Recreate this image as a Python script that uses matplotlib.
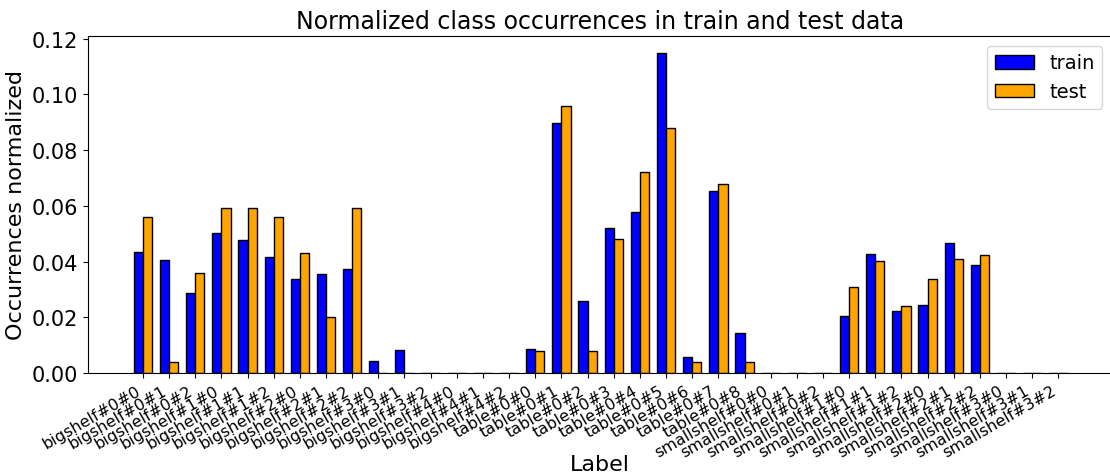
import numpy as np
import matplotlib.pyplot as plt

# Class labels (object#shelf#level)
labels = [
    "bigshelf#0#0", "bigshelf#0#1", "bigshelf#0#2",
    "bigshelf#1#0", "bigshelf#1#1", "bigshelf#1#2",
    "bigshelf#2#0", "bigshelf#2#1", "bigshelf#2#2",
    "bigshelf#3#0", "bigshelf#3#1", "bigshelf#3#2",
    "bigshelf#4#0", "bigshelf#4#1", "bigshelf#4#2",
    "table#0#0", "table#0#1", "table#0#2", "table#0#3", "table#0#4",
    "table#0#5", "table#0#6", "table#0#7", "table#0#8",
    "smallshelf#0#0", "smallshelf#0#1", "smallshelf#0#2",
    "smallshelf#1#0", "smallshelf#1#1", "smallshelf#1#2",
    "smallshelf#2#0", "smallshelf#2#1", "smallshelf#2#2",
    "smallshelf#3#0", "smallshelf#3#1", "smallshelf#3#2",
]

# normalized occurrences
train = [
    0.0433, 0.0406, 0.0288,
    0.0504, 0.0478, 0.0416,
    0.0337, 0.0355, 0.0375,
    0.0042, 0.0082, 0.0,
    0.0, 0.0, 0.0,
    0.0085, 0.0897, 0.0257, 0.0521, 0.0577,
    0.1149, 0.0059, 0.0652, 0.0145,
    0.0, 0.0, 0.0,
    0.0204, 0.0429, 0.0221,
    0.0245, 0.0468, 0.0386,
    0.0, 0.0, 0.0,
]
test = [
    0.0559, 0.0039, 0.0359,
    0.0591, 0.0591, 0.0559,
    0.0431, 0.0201, 0.0591,
    0.0, 0.0, 0.0,
    0.0, 0.0, 0.0,
    0.0080, 0.0959, 0.0080, 0.0480, 0.0721,
    0.0879, 0.0039, 0.0679, 0.0039,
    0.0, 0.0, 0.0,
    0.0310, 0.0401, 0.0239,
    0.0337, 0.0408, 0.0423,
    0.0, 0.0, 0.0,
]

x = np.arange(len(labels))
width = 0.35

fig = plt.figure(figsize=(11.1, 4.77), dpi=100)
ax = fig.add_axes([88 / 1110, 1 - 374 / 477, 1024 / 1110, 337 / 477])

ax.bar(x - width / 2, train, width, color="blue", edgecolor="black", label="train")
ax.bar(x + width / 2, test, width, color="orange", edgecolor="black", label="test")

ax.set_xticks(x)
ax.set_xticklabels(labels, rotation=30, ha="right", fontsize=11.5)
ax.set_xlim(-2.1, 37.05)
ax.set_ylim(0, 0.121)
ax.set_yticks(np.arange(0, 0.121, 0.02))
ax.yaxis.set_major_formatter(plt.FormatStrFormatter("%.2f"))
ax.tick_params(axis="y", labelsize=15)

ax.set_title("Normalized class occurrences in train and test data", fontsize=17)
ax.set_xlabel("Label", fontsize=16)
ax.xaxis.set_label_coords(0.5, -0.24)
ax.set_ylabel("Occurrences normalized", fontsize=16)
ax.legend(loc="upper right", fontsize=14)

fig.savefig("out.png")
